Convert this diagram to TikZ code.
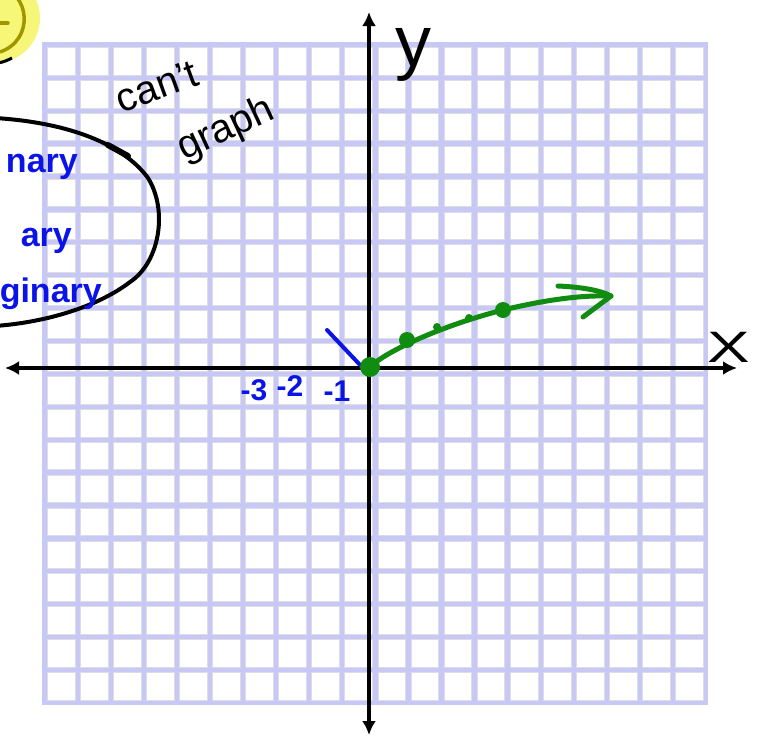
\documentclass[tikz,border=0pt]{standalone}
\usepackage{fontspec}
\setmainfont{Liberation Sans}
\usetikzlibrary{arrows.meta}
\definecolor{gridlav}{RGB}{200,200,246}
\definecolor{cellgray}{RGB}{222,222,226}
\definecolor{penblue}{RGB}{10,20,230}
\definecolor{pengreen}{RGB}{16,140,16}
\definecolor{hiyellow}{RGB}{246,246,120}
\definecolor{olive}{RGB}{160,150,0}
\tikzset{
  cellbox/.style={fill=white,draw=cellgray,line width=1pt},
  axisline/.style={line width=4.5pt,black,{Latex[length=14pt,width=14pt]}-{Latex[length=14pt,width=14pt]}},
  greenpen/.style={line width=5pt,pengreen,line cap=round,line join=round},
  bluepen/.style={line width=4pt,penblue,line cap=round},
  blackpen/.style={line width=4pt,black,line cap=round},
  bluetext/.style={text=penblue,font=\bfseries\fontsize{34}{34}\selectfont,inner sep=0pt},
  numtext/.style={text=penblue,font=\bfseries\fontsize{30}{30}\selectfont,inner sep=0pt},
  handtext/.style={text=black,font=\fontsize{40}{40}\selectfont,inner sep=0pt},
  gdot/.style={fill=pengreen}
}
\begin{document}
\begin{tikzpicture}[x=1pt,y=-1pt]
\useasboundingbox (0,0) rectangle (762,742);
\clip (0,0) rectangle (762,742);
% highlighter circle
\fill[hiyellow] (-5,18) circle (45);
\draw[olive,line width=3.5pt] (-2,-14) .. controls (30,-8) and (35,40) .. (0,52);
\draw[olive,line width=3.5pt,line cap=round] (-2,23) -- (8,23);
\draw[black,line width=3pt] (-2,63) .. controls (4,62) and (8,60) .. (12,58);
% grid
\fill[gridlav] (42,42) rectangle (708,705);
\foreach \i in {0,...,19}{
  \foreach \j in {0,...,19}{
    \draw[cellbox] ({47.5+\i*33.05},{47.5+\j*32.9}) rectangle ++(27.8,27.6);
  }
}
% axes
\coordinate (xl) at (5,368);
\coordinate (xr) at (737,368);
\coordinate (yt) at (369,12);
\coordinate (yb) at (369,735);
\draw[axisline] (xl) -- (xr);
\draw[axisline] (yb) -- (yt);
\node[font=\fontsize{72}{72}\selectfont,inner sep=0pt,anchor=base] (ylab) at (413,66) {y};
\node[font=\fontsize{44}{44}\selectfont,inner sep=0pt,xscale=1.45] (xlab) at (729,347) {X};
% black loop
\draw[blackpen] (-5,118) .. controls (60,122) and (120,140) .. (148,178)
  .. controls (168,210) and (160,262) .. (130,282)
  .. controls (100,305) and (50,322) .. (-5,326);
\draw[black,line width=6pt,line cap=round] (108,145) -- (128,156);
% blue words
\node[bluetext,anchor=base east] (w1) at (78,172) {nary};
\node[bluetext,anchor=base east] (w2) at (72,246) {ary};
\node[bluetext,anchor=base east] (w3) at (102,302) {ginary};
% can't graph
\node[handtext,rotate=20] (cant) at (157,86) {can't};
\node[handtext,rotate=25] (graph) at (226,130) {graph};
% number labels
\node[numtext] (n3) at (254,390) {-3};
\node[numtext] (n2) at (290,386) {-2};
\node[numtext] (n1) at (337,391) {-1};
% blue segment
\coordinate (b1) at (327,330);
\coordinate (b2) at (362,367);
\draw[bluepen] (b1) -- (b2);
% green curve
\coordinate (g0) at (370,367);
\coordinate (g1) at (407,340);
\coordinate (g2) at (503,310);
\coordinate (gt) at (611,296);
\draw[greenpen] (g0) .. controls (385,352) and (440,326) .. (g2)
  .. controls (545,300) and (580,295) .. (gt);
\draw[greenpen] (558,286) .. controls (580,287) and (600,290) .. (gt) -- (583,317);
\fill[gdot] (g0) circle (10);
\fill[gdot] (g1) circle (8);
\fill[gdot] (g2) circle (8);
\fill[gdot] (437,327) circle (4);
\fill[gdot] (469,318) circle (4);
\end{tikzpicture}
\end{document}
